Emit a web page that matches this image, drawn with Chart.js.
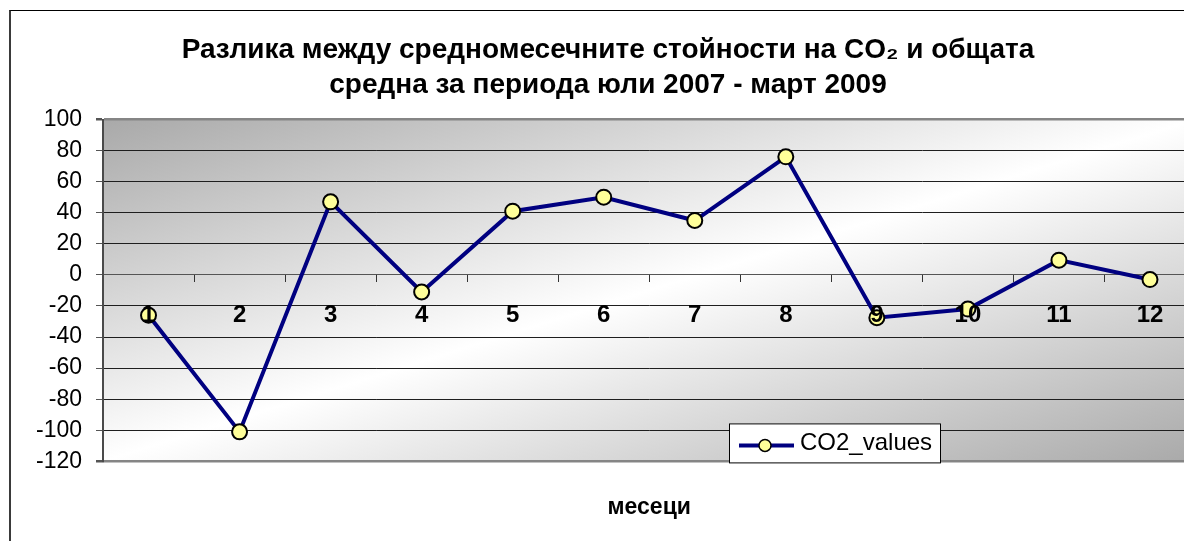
<!DOCTYPE html>
<html>
<head>
<meta charset="utf-8">
<script src="https://cdn.jsdelivr.net/npm/chart.js@4.4.0/dist/chart.umd.min.js"></script>
<style>
  html, body { margin: 0; padding: 0; background: #fff; overflow: hidden; }
  #frame {
    position: absolute; left: 9px; top: 10px;
    width: 1230px; height: 600px;
    border-left: 2px solid #3a3a3a; border-top: 1px solid #000;
  }
  #chart { display: block; }
</style>
</head>
<body>
<div id="frame"><canvas id="chart" width="1194" height="560"></canvas></div>
<script>
// chart data
const months = ['1', '2', '3', '4', '5', '6', '7', '8', '9', '10', '11', '12'];
const co2Values = [-26, -101, 47, -11, 41, 50, 35, 76, -27.5, -22, 9.5, -3];
const seriesLabel = 'CO2_values';
const titleLines = [
  'Разлика между средномесечните стойности на CO\u2082 и общата',
  'средна за периода юли 2007 - март 2009'
];
const xAxisTitle = 'месеци';
const yMin = -120, yMax = 100, yStep = 20;

const FONT = "'Liberation Sans', Arial, sans-serif";

// plot area background: grey corners, white diagonal band
const plotBackground = {
  id: 'plotBackground',
  beforeDraw(chart) {
    const { ctx, chartArea: a } = chart;
    const w = a.right - a.left, h = a.bottom - a.top;
    const cx = a.left + w / 2, cy = a.top + h / 2;
    const len = Math.hypot(w, h);
    const ux = h / len, uy = w / len;
    const half = (w / 2) * ux + (h / 2) * uy;
    const g = ctx.createLinearGradient(cx - ux * half, cy - uy * half, cx + ux * half, cy + uy * half);
    g.addColorStop(0, '#a9a9a9');
    g.addColorStop(0.5, '#ffffff');
    g.addColorStop(1, '#a9a9a9');
    ctx.save();
    ctx.fillStyle = g;
    ctx.fillRect(a.left, a.top, w, h);
    ctx.restore();
  }
};

// Excel style legend box sitting over the plot bottom
const boxLegend = {
  id: 'boxLegend',
  afterDraw(chart) {
    const { ctx, chartArea: a } = chart;
    const ds = chart.data.datasets[0];
    const x = a.left + 626, y = a.bottom - 38, w = 212, h = 40;
    ctx.save();
    ctx.fillStyle = '#fff';
    ctx.fillRect(x, y, w, h);
    ctx.strokeStyle = '#000';
    ctx.lineWidth = 1;
    ctx.strokeRect(x + 0.5, y + 0.5, w - 1, h - 1);
    const my = y + 22;
    ctx.strokeStyle = ds.borderColor;
    ctx.lineWidth = 4;
    ctx.beginPath();
    ctx.moveTo(x + 10, my);
    ctx.lineTo(x + 65, my);
    ctx.stroke();
    ctx.beginPath();
    ctx.arc(x + 36, my, 6, 0, Math.PI * 2);
    ctx.fillStyle = ds.pointBackgroundColor;
    ctx.fill();
    ctx.lineWidth = 1.5;
    ctx.strokeStyle = ds.pointBorderColor;
    ctx.stroke();
    ctx.fillStyle = '#000';
    ctx.font = '24px ' + FONT;
    ctx.textBaseline = 'middle';
    ctx.fillText(ds.label, x + 71, y + 20);
    ctx.restore();
  }
};

new Chart(document.getElementById('chart'), {
  type: 'line',
  data: {
    labels: months,
    datasets: [{
      label: seriesLabel,
      data: co2Values,
      borderColor: '#000080',
      borderWidth: 4,
      tension: 0,
      pointRadius: 7.5,
      pointHoverRadius: 7.5,
      pointBackgroundColor: '#ffff99',
      pointBorderColor: '#000',
      pointBorderWidth: 2,
      clip: false
    }]
  },
  options: {
    responsive: false,
    animation: false,
    layout: { padding: { left: 6, right: 6, top: 0, bottom: 50 } },
    plugins: {
      legend: { display: false },
      tooltip: { enabled: false },
      title: {
        display: true,
        text: titleLines,
        color: '#000',
        font: { family: FONT, size: 28, weight: 'bold', lineHeight: 1.25 },
        padding: { top: 21.5, bottom: 17 }
      }
    },
    scales: {
      x: {
        type: 'category',
        position: { y: 0 },
        offset: true,
        grid: {
          offset: true,
          drawOnChartArea: false,
          drawTicks: true,
          tickLength: 7,
          color: '#333'
        },
        border: { display: true, color: '#555', width: 1 },
        ticks: {
          z: 1, // labels sit on top of the markers, as in the original
          color: '#000',
          padding: 19,
          maxRotation: 0,
          autoSkip: false,
          font: { family: FONT, size: 24, weight: 'bold' }
        }
      },
      xTitle: {
        type: 'category',
        position: 'bottom',
        offset: true,
        grid: { display: false, drawTicks: false },
        border: { display: false },
        ticks: { display: false },
        title: {
          display: true,
          text: xAxisTitle,
          color: '#000',
          font: { family: FONT, size: 23, weight: 'bold', lineHeight: 1.2 },
          padding: { top: 32, bottom: 0 }
        }
      },
      y: {
        min: yMin,
        max: yMax,
        afterFit(scale) { scale.width = 86; },
        ticks: {
          stepSize: yStep,
          color: '#000',
          padding: 14,
          font: { family: FONT, size: 23 }
        },
        grid: {
          color: c => (c.tick && (c.tick.value === yMax || c.tick.value === yMin)) ? '#858585' : '#1e1e1e',
          lineWidth: c => (c.tick && (c.tick.value === yMax || c.tick.value === yMin)) ? 2.5 : 1,
          tickLength: 7,
          tickColor: '#555'
        },
        border: { display: true, color: '#4a4a4a', width: 2 }
      }
    }
  },
  plugins: [plotBackground, boxLegend]
});
</script>
</body>
</html>
